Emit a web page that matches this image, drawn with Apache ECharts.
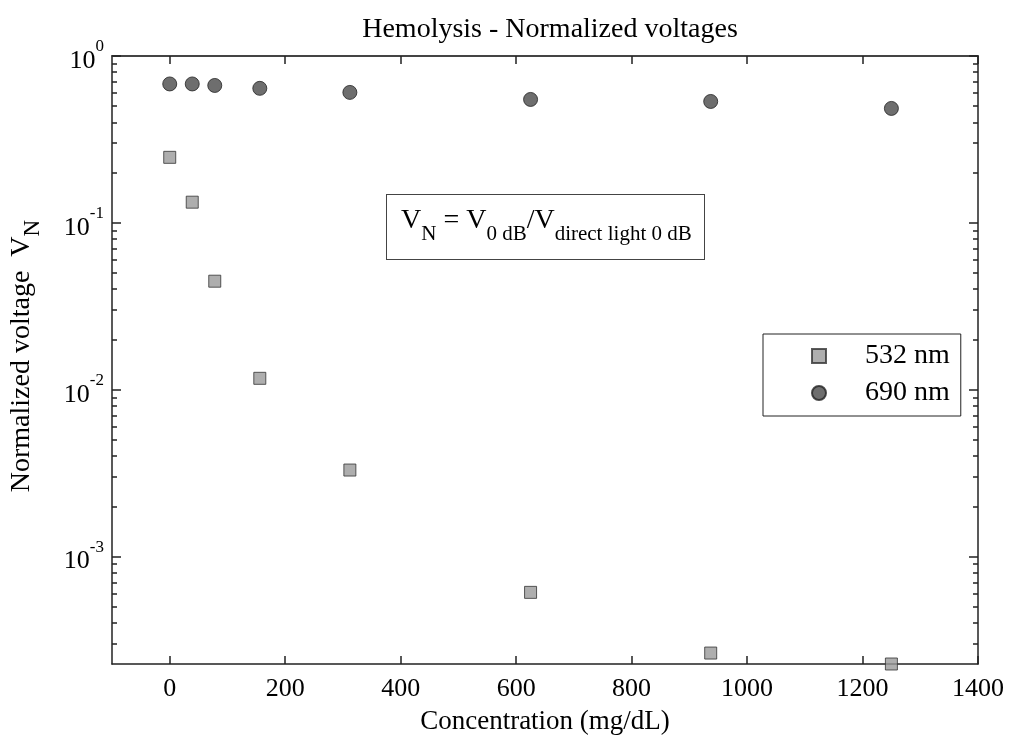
<!DOCTYPE html>
<html>
<head>
<meta charset="utf-8">
<script src="https://cdn.jsdelivr.net/npm/echarts@6/dist/echarts.min.js"></script>
<style>
  html, body { margin: 0; padding: 0; background: #fff; }
  #chart { width: 1011px; height: 738px; }
</style>
</head>
<body>
<div id="chart"></div>
<script>
var concentration = [0, 39, 78, 156, 312, 625, 937, 1250];
var v532 = [0.247, 0.133, 0.0447, 0.0117, 0.0033, 0.00061, 0.000264, 0.000227];
var v690 = [0.68, 0.68, 0.666, 0.64, 0.605, 0.549, 0.534, 0.485];

var xTicks = [0, 200, 400, 600, 800, 1000, 1200, 1400];
var yTicks = [0.001, 0.01, 0.1, 1];
var yMinorTicks = [];
[0.0001, 0.001, 0.01, 0.1].forEach(function (d) {
    for (var m = 2; m <= 9; m++) {
        var v = +(m * d).toPrecision(3);
        if (v >= 0.000227) yMinorTicks.push(v);
    }
});
var yMin = 0.000227;

var font = 'Liberation Serif';
var chart = echarts.init(document.getElementById('chart'));

var lineStyle = { color: '#222', width: 1.5 };

function yAxisBase(pos, ticks, len, showLine, showLabel) {
    return {
        type: 'log',
        position: pos,
        min: yMin,
        max: 1,
        logBase: 10,
        axisLine: { show: showLine, onZero: false, lineStyle: lineStyle },
        axisTick: { show: true, inside: true, length: len, customValues: ticks, lineStyle: { color: '#222', width: 1.5 } },
        axisLabel: showLabel ? {
            customValues: yTicks,
            margin: 8,
            fontFamily: font,
            formatter: function (v) {
                var e = Math.round(Math.log(v) / Math.LN10);
                return '{b|10}{e|' + e + '}';
            },
            rich: {
                b: { fontFamily: font, fontSize: 26, color: '#000', lineHeight: 36, verticalAlign: 'bottom' },
                e: { fontFamily: font, fontSize: 17, color: '#000', verticalAlign: 'top' }
            }
        } : { show: false },
        splitLine: { show: false },
        minorTick: { show: false }
    };
}

option = {
    animation: false,
    title: {
        text: 'Hemolysis - Normalized voltages',
        left: 545,
        textAlign: 'center',
        top: 11,
        textStyle: { fontFamily: font, fontSize: 28, fontWeight: 'normal', color: '#000' }
    },
    grid: { left: 112, right: 33, top: 56, bottom: 74, containLabel: false, outerBoundsMode: 'none' },
    legend: {
        orient: 'vertical',
        left: 763,
        top: 334,
        padding: [8, 11, 9, 48],
        itemWidth: 14,
        itemHeight: 14,
        itemGap: 9,
        borderColor: '#222',
        borderWidth: 1,
        textStyle: { fontFamily: font, fontSize: 28, color: '#000', padding: [0, 0, 0, 34] },
        data: ['532 nm', '690 nm']
    },
    xAxis: [{
        type: 'value',
        min: -100,
        max: 1400,
        name: 'Concentration (mg/dL)',
        nameLocation: 'middle',
        nameGap: 44,
        nameTextStyle: { fontFamily: font, fontSize: 27, color: '#000' },
        axisLine: { show: true, onZero: false, lineStyle: lineStyle },
        axisTick: { inside: true, length: 8, customValues: xTicks, lineStyle: { color: '#222', width: 1.5 } },
        axisLabel: {
            customValues: xTicks, margin: 12, fontFamily: font, fontSize: 26, color: '#000',
            formatter: function (v) { return String(v); }
        },
        splitLine: { show: false }
    }, {
        type: 'value',
        position: 'top',
        min: -100,
        max: 1400,
        axisLine: { show: true, onZero: false, lineStyle: { color: '#444', width: 2 } },
        axisTick: { inside: true, length: 8, customValues: xTicks, lineStyle: { color: '#222', width: 1.5 } },
        axisLabel: { show: false },
        splitLine: { show: false }
    }],
    yAxis: [
        Object.assign(yAxisBase('left', yTicks, 9, true, true), {
            name: 'Normalized voltage  V{s|N}',
            nameLocation: 'middle',
            nameGap: 68,
            nameTextStyle: {
                fontFamily: font, fontSize: 28, color: '#000',
                padding: [0, 0, 0, 8],
                rich: { s: { fontFamily: font, fontSize: 23, color: '#000', verticalAlign: 'bottom', lineHeight: 44 } }
            }
        }),
        yAxisBase('left', yMinorTicks, 5, false, false),
        yAxisBase('right', yTicks, 9, true, false),
        yAxisBase('right', yMinorTicks, 5, false, false)
    ],
    graphic: [{
        type: 'text',
        left: 386,
        top: 194,
        style: {
            text: '{t|V}{s|N}{t| = V}{s|0 dB}{t|/V}{s|direct light 0 dB}',
            rich: {
                t: { fontFamily: font, fontSize: 28, color: '#000', lineHeight: 38, verticalAlign: 'top' },
                s: { fontFamily: font, fontSize: 21, color: '#000', verticalAlign: 'bottom' }
            },
            width: 291,
            height: 40,
            padding: [12, 12, 12, 14],
            borderColor: '#444',
            borderWidth: 1,
            backgroundColor: '#fff'
        }
    }],
    series: [{
        name: '532 nm',
        type: 'scatter',
        xAxisIndex: 0,
        yAxisIndex: 0,
        symbol: 'rect',
        symbolSize: 12,
        clip: false,
        itemStyle: { color: '#9a9a9a', borderColor: '#333', borderWidth: 1 },
        data: concentration.map(function (c, i) { return [c, v532[i]]; })
    }, {
        name: '690 nm',
        type: 'scatter',
        xAxisIndex: 0,
        yAxisIndex: 0,
        symbol: 'circle',
        symbolSize: 14,
        clip: false,
        itemStyle: { color: '#4a4a4a', borderColor: '#222', borderWidth: 1 },
        data: concentration.map(function (c, i) { return [c, v690[i]]; })
    }]
};
chart.setOption(option);
</script>
</body>
</html>
